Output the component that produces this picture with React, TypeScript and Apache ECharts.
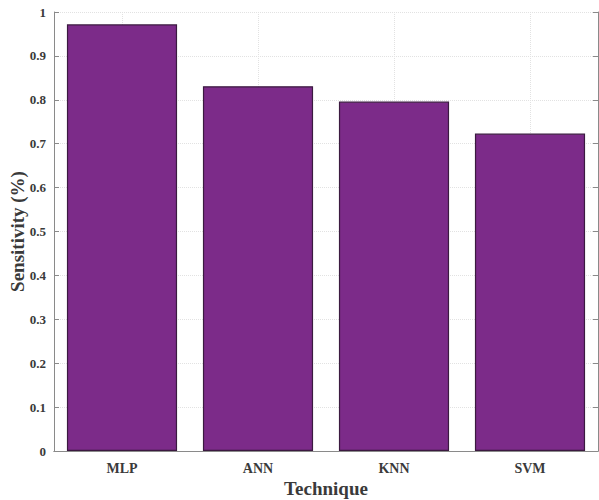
import React, { useEffect, useRef } from "react";
import * as echarts from "echarts";

const categories = ["MLP", "ANN", "KNN", "SVM"];
const sensitivity = [0.972, 0.831, 0.796, 0.723];
const yTicks = [0, 0.1, 0.2, 0.3, 0.4, 0.5, 0.6, 0.7, 0.8, 0.9, 1];

const FONT = "Liberation Serif";
const TXT = "#3a3a3a";
const AX = "#8a8a8a";
const GRID = "#e2e2e2";

export default function App() {
  const ref = useRef<HTMLDivElement>(null);
  useEffect(() => {
    if (!ref.current) return;
    const chart = echarts.init(ref.current, null, { renderer: "svg" });
    chart.setOption({
      animation: false,
      backgroundColor: "#ffffff",
      grid: { left: 54, right: 1, top: 12, bottom: 49, containLabel: false, outerBoundsMode: "none" },
      xAxis: [
        {
          type: "category",
          data: categories,
          name: "Technique",
          nameLocation: "middle",
          nameGap: 28,
          nameMoveOverlap: false,
          nameTextStyle: { fontFamily: FONT, fontWeight: "bold", fontSize: 19, color: TXT },
          axisLine: { lineStyle: { color: AX, width: 1 } },
          axisTick: { inside: true, alignWithLabel: true, length: 5, lineStyle: { color: AX } },
          axisLabel: { fontFamily: FONT, fontWeight: "bold", fontSize: 14, color: TXT, margin: 10 },
          splitLine: { show: false },
        },
        {
          type: "category",
          data: categories,
          position: "top",
          axisLine: { lineStyle: { color: AX, width: 1 } },
          axisTick: { inside: true, alignWithLabel: true, length: 5, lineStyle: { color: AX } },
          axisLabel: { show: false },
          splitLine: { show: false },
        },
      ],
      yAxis: [
        {
          type: "value",
          min: 0,
          max: 1,
          interval: 0.1,
          name: "Sensitivity (%)",
          nameLocation: "middle",
          nameGap: 27,
          nameMoveOverlap: false,
          nameTextStyle: { fontFamily: FONT, fontWeight: "bold", fontSize: 19, color: TXT },
          axisLine: { show: true, lineStyle: { color: AX, width: 1 } },
          axisTick: { show: true, inside: true, length: 5, lineStyle: { color: AX } },
          axisLabel: {
            fontFamily: FONT,
            fontWeight: "bold",
            fontSize: 13,
            color: TXT,
            margin: 8,
            formatter: (v: number) => {
              const t = yTicks.find((y) => Math.abs(y - v) < 1e-6);
              return t === undefined ? "" : String(t);
            },
          },
          splitLine: { show: true, lineStyle: { color: GRID, type: "dotted" } },
        },
        {
          type: "value",
          min: 0,
          max: 1,
          interval: 0.1,
          position: "right",
          axisLine: { show: true, lineStyle: { color: AX, width: 1 } },
          axisTick: { show: true, inside: true, length: 5, lineStyle: { color: AX } },
          axisLabel: { show: false },
          splitLine: { show: false },
        },
      ],
      series: [
        {
          type: "line",
          data: [],
          z: 1,
          markLine: {
            z: 1,
            silent: true,
            symbol: "none",
            label: { show: false },
            lineStyle: { color: GRID, type: "dotted", width: 1 },
            data: categories.map((c) => ({ xAxis: c })),
          },
        },
        {
          type: "bar",
          data: sensitivity,
          barWidth: "81%",
          z: 2,
          itemStyle: { color: "#7c2b89", borderColor: "#3b1a40", borderWidth: 1.2 },
        },
      ],
    });
    return () => chart.dispose();
  }, []);
  return <div ref={ref} style={{ width: 599, height: 500, position: "absolute", left: 0, top: 0 }} />;
}
